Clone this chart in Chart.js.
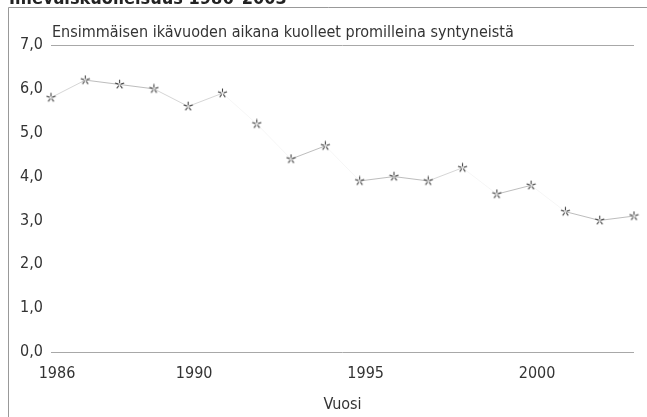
<!DOCTYPE html>
<html>
<head>
<meta charset="utf-8">
<script src="https://cdn.jsdelivr.net/npm/chart.js@4"></script>
<style>
  html, body { margin: 0; padding: 0; background: #fff; }
  #wrap { position: relative; width: 647px; height: 417px; }
</style>
</head>
<body>
<div id="wrap"><canvas id="imr_chart" width="647" height="417"></canvas></div>
<script>
// data
const years = [1986, 1987, 1988, 1989, 1990, 1991, 1992, 1993, 1994, 1995, 1996, 1997, 1998, 1999, 2000, 2001, 2002, 2003];
const deaths = [5.8, 6.2, 6.1, 6.0, 5.6, 5.9, 5.2, 4.4, 4.7, 3.9, 4.0, 3.9, 4.2, 3.6, 3.8, 3.2, 3.0, 3.1];
const xTicks = [1986, 1990, 1995, 2000];
const yTicks = [0, 1, 2, 3, 4, 5, 6, 7];

const mainTitle = 'Imeväiskuolleisuus 1986–2003';
const subTitle = 'Ensimmäisen ikävuoden aikana kuolleet promilleina syntyneistä';
const xTitle = 'Vuosi';

const FONT = '"DejaVu Sans Condensed", "Liberation Sans Narrow", sans-serif';

// little asterisk used as marker
function makeAsterisk() {
    const c = document.createElement('canvas');
    c.width = 11; c.height = 11;
    const g = c.getContext('2d');
    g.strokeStyle = '#444';
    g.lineWidth = 1.1;
    for (let i = 0; i < 5; i++) {
        const a = -Math.PI / 2 + i * 2 * Math.PI / 5;
        g.beginPath();
        g.moveTo(5.5 + Math.cos(a) * 1.2, 5.5 + Math.sin(a) * 1.2);
        g.lineTo(5.5 + Math.cos(a) * 4.8, 5.5 + Math.sin(a) * 4.8);
        g.stroke();
    }
    return c;
}

// frame, cut-off heading and the subtitle
const decorations = {
    id: 'decorations',
    beforeDraw(chart) {
        const ctx = chart.ctx;
        ctx.save();
        ctx.fillStyle = '#fff';
        ctx.fillRect(0, 0, chart.width, chart.height);
        ctx.strokeStyle = '#999';
        ctx.lineWidth = 1;
        ctx.beginPath();
        ctx.moveTo(8.5, chart.height + 2);
        ctx.lineTo(8.5, 7.5);
        ctx.lineTo(chart.width + 2, 7.5);
        ctx.stroke();
        ctx.fillStyle = '#222';
        ctx.font = 'bold 18px ' + FONT;
        ctx.textBaseline = 'alphabetic';
        ctx.fillText(mainTitle, 9, 4);
        ctx.restore();
    },
    afterDraw(chart) {
        const ctx = chart.ctx;
        const a = chart.chartArea;
        ctx.save();
        ctx.fillStyle = '#333';
        ctx.font = '16px ' + FONT;
        ctx.textBaseline = 'alphabetic';
        ctx.fillText(subTitle, a.left + 1, a.top - 8);
        ctx.restore();
    }
};

const ctx = document.getElementById('imr_chart').getContext('2d');
new Chart(ctx, {
    type: 'line',
    data: {
        datasets: [{
            label: 'Kuolleet',
            data: years.map((y, i) => ({ x: y, y: deaths[i] })),
            borderColor: '#bdbdbd',
            borderWidth: 1,
            tension: 0,
            fill: false,
            clip: false,
            pointStyle: makeAsterisk(),
            pointRadius: 5,
            segment: {
                borderColor: c => {
                    const dv = Math.abs(c.p1.parsed.y - c.p0.parsed.y);
                    return dv >= 0.5 ? 'rgba(0,0,0,0.04)' : (dv >= 0.3 ? '#d6d6d6' : '#bdbdbd');
                }
            }
        }]
    },
    options: {
        responsive: false,
        animation: false,
        layout: { padding: { left: 0, right: 13, top: 45, bottom: 0 } },
        plugins: {
            legend: { display: false },
            tooltip: { enabled: false },
            title: { display: false }
        },
        scales: {
            x: {
                type: 'linear',
                min: 1986,
                max: 2003,
                afterBuildTicks: scale => { scale.ticks = xTicks.map(v => ({ value: v })); },
                afterFit: scale => { scale.height = 65; },
                border: { display: false },
                grid: { display: false },
                ticks: {
                    color: '#333',
                    font: { family: FONT, size: 16 },
                    padding: 4,
                    labelOffset: 6,
                    maxRotation: 0,
                    autoSkip: false,
                    callback: v => String(v)
                },
                title: {
                    display: true,
                    text: xTitle,
                    color: '#333',
                    font: { family: FONT, size: 16 },
                    padding: { top: 4, bottom: 3 }
                }
            },
            y: {
                min: 0,
                max: 7,
                afterBuildTicks: scale => { scale.ticks = yTicks.map(v => ({ value: v })); },
                afterFit: scale => { scale.width = 51; },
                border: { display: false },
                grid: {
                    drawTicks: false,
                    color: c => (c.tick.value === 0 || c.tick.value === 7) ? '#a8a8a8' : 'rgba(0,0,0,0)',
                    lineWidth: 1
                },
                ticks: {
                    color: '#333',
                    font: { family: FONT, size: 16 },
                    padding: 8,
                    callback: v => v.toFixed(1).replace('.', ',')
                }
            }
        }
    },
    plugins: [decorations]
});
</script>
</body>
</html>
